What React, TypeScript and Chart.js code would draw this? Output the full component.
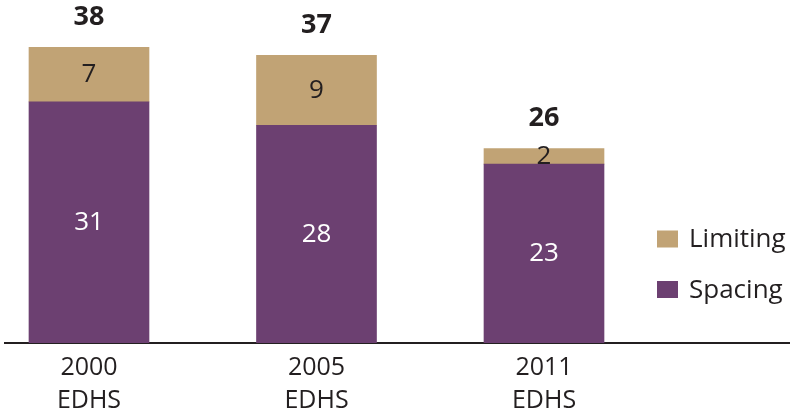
import React, { useEffect, useRef } from "react";
import { Chart, registerables } from "chart.js";

Chart.register(...registerables);

// ---- data ----
const surveyYears = ["2000", "2005", "2011"];
const surveyNames = ["EDHS", "EDHS", "EDHS"];
const positions = [0, 1, 2];
const spacingValues = [31, 28, 23];
const limitingValues = [7, 9, 2];
const totalValues = [38, 37, 26];
const seriesNames = ["Spacing", "Limiting"];
const seriesColors = ["#6C4071", "#C1A375"];
const labelColors = ["#FFFFFF", "#231F20"];

const TEXT = "#231F20";
const FONT = "'Open Sans', 'DejaVu Sans', sans-serif";

const valueLabelPlugin = {
  id: "valueLabels",
  afterDatasetsDraw(chart: any) {
    const ctx = chart.ctx;
    ctx.save();
    ctx.textAlign = "center";
    ctx.textBaseline = "middle";
    chart.data.datasets.forEach((ds: any, di: number) => {
      const meta = chart.getDatasetMeta(di);
      ctx.fillStyle = labelColors[di];
      ctx.font = `26px ${FONT}`;
      meta.data.forEach((el: any, i: number) => {
        const p = el.getProps(["x", "y", "base"], true);
        ctx.fillText(String(ds.data[i].y), p.x, (p.y + p.base) / 2);
      });
    });
    // totals above the stacks
    const topMeta = chart.getDatasetMeta(chart.data.datasets.length - 1);
    ctx.fillStyle = TEXT;
    ctx.font = `bold 27px ${FONT}`;
    topMeta.data.forEach((el: any, i: number) => {
      const p = el.getProps(["x", "y"], true);
      ctx.fillText(String(totalValues[i]), p.x, p.y - 30);
    });
    ctx.restore();
  },
};

const legendPlugin = {
  id: "sideLegend",
  afterDraw(chart: any) {
    const ctx = chart.ctx;
    const ds = chart.data.datasets;
    ctx.save();
    ctx.textAlign = "left";
    ctx.textBaseline = "middle";
    ctx.font = `26px ${FONT}`;
    const order = ds.map((_: any, i: number) => i).reverse();
    order.forEach((di: number, row: number) => {
      const cy = 239 + row * 50.5;
      ctx.fillStyle = ds[di].backgroundColor;
      ctx.fillRect(657, cy - 8.5, 21, 17);
      ctx.fillStyle = TEXT;
      ctx.fillText(ds[di].label, 689, cy + 1);
    });
    ctx.restore();
  },
};

export default function App() {
  const canvasRef = useRef<HTMLCanvasElement | null>(null);

  useEffect(() => {
    if (!canvasRef.current) return;
    const chart = new Chart(canvasRef.current, {
      type: "bar",
      data: {
        datasets: [
          {
            label: seriesNames[0],
            data: positions.map((x, i) => ({ x, y: spacingValues[i] })),
            backgroundColor: seriesColors[0],
            borderWidth: 0,
            barThickness: 120,
            grouped: false,
          },
          {
            label: seriesNames[1],
            data: positions.map((x, i) => ({ x, y: limitingValues[i] })),
            backgroundColor: seriesColors[1],
            borderWidth: 0,
            barThickness: 120,
            grouped: false,
          },
        ],
      },
      options: {
        responsive: false,
        animation: false,
        layout: { padding: { left: 5, right: 0, top: 0, bottom: -8 } },
        scales: {
          x: {
            type: "linear",
            min: -0.3692,
            max: 3.0813,
            offset: false,
            stacked: false,
            grid: { display: false, drawTicks: false, offset: false, tickLength: 0 },
            border: { display: true, color: TEXT, width: 2 },
            afterBuildTicks: (axis: any) => {
              axis.ticks = positions.map((v) => ({ value: v }));
            },
            ticks: {
              autoSkip: false,
              maxRotation: 0,
              padding: 8,
              color: TEXT,
              font: { family: FONT, size: 25, lineHeight: 1.32 },
              callback: (value: any) => {
                const i = positions.indexOf(Number(value));
                return i >= 0 ? [surveyYears[i], surveyNames[i]] : "";
              },
            },
          },
          y: {
            display: false,
            stacked: true,
            min: 0,
            max: 44.1,
          },
        },
        plugins: {
          legend: { display: false },
          tooltip: { enabled: false },
        },
      },
      plugins: [valueLabelPlugin, legendPlugin],
    } as any);
    return () => chart.destroy();
  }, []);

  return (
    <div style={{ position: "absolute", left: 0, top: 0, width: 790, height: 417 }}>
      <canvas ref={canvasRef} width={790} height={417} />
    </div>
  );
}
